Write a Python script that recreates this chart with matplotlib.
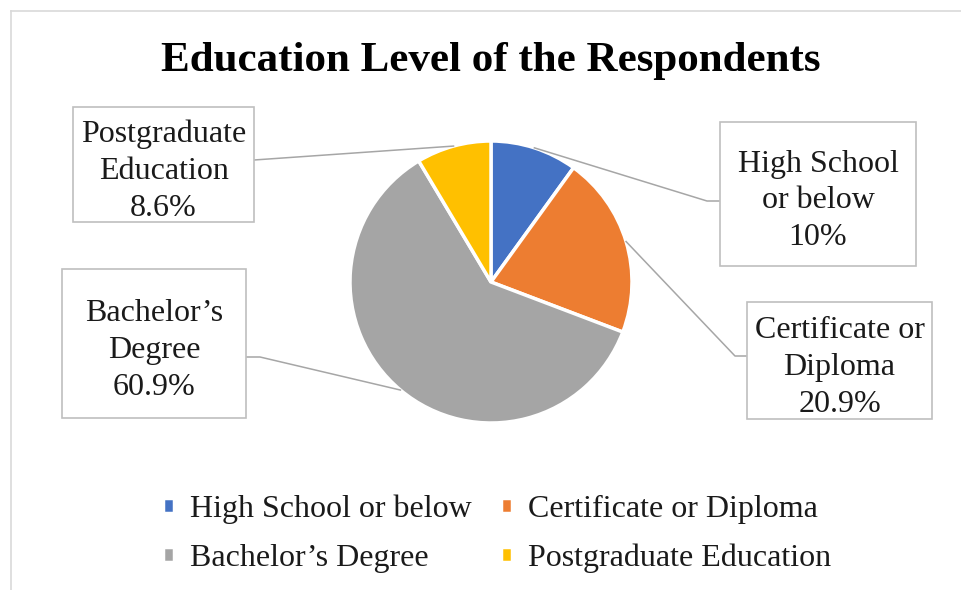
import numpy as np
import matplotlib
matplotlib.use("Agg")
import matplotlib.pyplot as plt
from matplotlib.patches import Rectangle
from matplotlib.lines import Line2D

# Survey data
categories = ["High School or below", "Certificate or Diploma",
              "Bachelor\u2019s Degree", "Postgraduate Education"]
values = [10.0, 20.9, 60.9, 8.6]
label_lines = [["High School", "or below"], ["Certificate or", "Diploma"],
               ["Bachelor\u2019s", "Degree"], ["Postgraduate", "Education"]]
colors = ["#4472C4", "#ED7D31", "#A5A5A5", "#FFC000"]
title = "Education Level of the Respondents"

plt.rcParams["font.family"] = ["Liberation Serif", "DejaVu Serif"]

W, H = 961, 590
fig = plt.figure(figsize=(W / 100, H / 100), dpi=100)
ax = fig.add_axes([0, 0, 1, 1])


def py(y):
    """Convert a top-down pixel row to the axis y coordinate."""
    return H - y


# pie
cx, cy, r = 491, 282, 141
wedges, _ = ax.pie(values, colors=colors, startangle=90, counterclock=False,
                   center=(cx, py(cy)), radius=r, frame=True,
                   wedgeprops=dict(edgecolor="white", linewidth=2.5))
ax.set_xlim(0, W)
ax.set_ylim(0, H)
ax.set_aspect("equal")
ax.axis("off")

# chart-area frame (top and left edges)
ax.add_line(Line2D([11, W], [py(11), py(11)], color="#D9D9D9", lw=1.2))
ax.add_line(Line2D([11, 11], [py(11), 0], color="#D9D9D9", lw=1.2))

ax.text(cx, py(61), title, ha="center", va="center", fontsize=31,
        fontweight="bold", color="black")

# data-label boxes: (left, top, right, bottom) and leader elbow point
boxes = [(720, 122, 916, 266), (747, 302, 932, 419),
         (62, 269, 246, 418), (73, 107, 254, 222)]
elbows = [(707, 201, 720), (735, 356, 747), (260, 357, 246), (254, 160, 254)]

for i, w in enumerate(wedges):
    x0, y0, x1, y1 = boxes[i]
    ax.add_patch(Rectangle((x0, py(y1)), x1 - x0, y1 - y0, facecolor="white",
                           edgecolor="#BFBFBF", lw=1.2, zorder=3))
    txt = "\n".join(label_lines[i] + [f"{values[i]:g}%"])
    ax.text((x0 + x1) / 2, py((y0 + y1) / 2 + 7), txt, ha="center",
            va="center", fontsize=23, linespacing=1.36, color="#1a1a1a",
            zorder=4)
    # leader from wedge mid-angle on the rim
    mid = np.deg2rad((w.theta1 + w.theta2) / 2)
    ax_x = cx + r * np.cos(mid)
    ax_y = py(cy) + r * np.sin(mid)
    ex, ey, bx = elbows[i]
    ax.add_line(Line2D([ax_x, ex, bx], [ax_y, py(ey), py(ey)],
                       color="#A6A6A6", lw=1.1, zorder=2))

# legend, filled row by row
order = [0, 2, 1, 3]
leg = ax.legend([wedges[k] for k in order], [categories[k] for k in order],
                ncol=2, frameon=False, fontsize=23,
                loc="center", bbox_to_anchor=(497 / W, 1 - 534 / H),
                bbox_transform=fig.transFigure,
                handlelength=0.35, handleheight=0.35, handletextpad=0.5,
                columnspacing=0.9, labelspacing=0.62)
for t in leg.get_texts():
    t.set_color("#1a1a1a")

fig.savefig("out.png", dpi=100, facecolor="white")
